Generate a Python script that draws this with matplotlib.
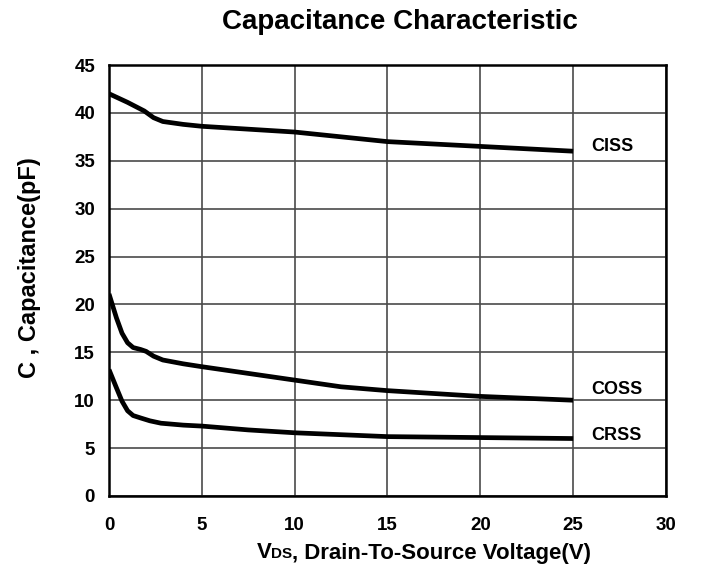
import numpy as np
import matplotlib.pyplot as plt
from matplotlib.offsetbox import TextArea, HPacker, AnchoredOffsetbox

plt.rcParams['font.family'] = ['Liberation Sans', 'DejaVu Sans']
plt.rcParams['font.weight'] = 'bold'

ciss_x = [0, 1, 1.9, 2.4, 2.9, 4, 5, 7.5, 10, 12.5, 15, 20, 25]
ciss_y = [42.0, 41.1, 40.2, 39.5, 39.1, 38.8, 38.6, 38.3, 38.0, 37.5, 37.0, 36.5, 36.0]
coss_x = [0, 0.4, 0.7, 1.0, 1.3, 1.7, 2.0, 2.4, 2.9, 4, 5, 7.5, 10, 12.5, 15, 20, 25]
coss_y = [21.1, 18.6, 17.0, 16.0, 15.5, 15.3, 15.1, 14.6, 14.2, 13.8, 13.5, 12.8, 12.1, 11.4, 11.0, 10.4, 10.0]
crss_x = [0, 0.4, 0.7, 1.0, 1.3, 1.7, 2.2, 2.8, 4, 5, 7.5, 10, 15, 20, 25]
crss_y = [13.2, 11.3, 9.9, 8.9, 8.4, 8.15, 7.85, 7.6, 7.4, 7.3, 6.9, 6.6, 6.2, 6.1, 6.0]
series_labels = ['CISS', 'COSS', 'CRSS']
label_y = [36.5, 11.1, 6.3]

fig = plt.figure(figsize=(7.04, 5.71), dpi=100)
ax = fig.add_axes([109/704, 75/571, 557/704, 431/571])

for xs, ys in [(ciss_x, ciss_y), (coss_x, coss_y), (crss_x, crss_y)]:
    ax.plot(xs, ys, color='black', lw=3.4, solid_capstyle='butt',
            solid_joinstyle='round', zorder=3)

for lab, ly in zip(series_labels, label_y):
    ax.text(25.95, ly, lab, fontsize=13, fontweight='bold', va='center', ha='left')

ax.set_xlim(0, 30)
ax.set_ylim(0, 45)
ax.set_xticks(np.arange(0, 31, 5))
ax.set_yticks(np.arange(0, 46, 5))
ax.grid(True, color='#4a4a4a', lw=1.2)
ax.tick_params(length=0, labelsize=13.5)
ax.tick_params(axis='x', pad=15)
ax.tick_params(axis='y', pad=10)
for s in ax.spines.values():
    s.set_linewidth(1.8)
    s.set_color('black')

fig.text(400/704, 1 - 22/571, 'Capacitance Characteristic',
         fontsize=20, fontweight='bold', ha='center', va='center')
fig.text(30/704, 1 - 268/571, 'C , Capacitance(pF)', rotation=90,
         fontsize=17, fontweight='bold', ha='center', va='center')

# x label with small "DS" after V
parts = [TextArea('V', textprops=dict(size=16, weight='bold')),
         TextArea('DS', textprops=dict(size=11, weight='bold')),
         TextArea(', Drain-To-Source Voltage(V)', textprops=dict(size=16, weight='bold'))]
box = HPacker(children=parts, align='baseline', pad=0, sep=0)
xl = AnchoredOffsetbox(loc='center', child=box, pad=0, borderpad=0, frameon=False,
                       bbox_to_anchor=(424/704, 1 - 553/571),
                       bbox_transform=fig.transFigure)
fig.add_artist(xl)

fig.savefig('out.png', dpi=100)
